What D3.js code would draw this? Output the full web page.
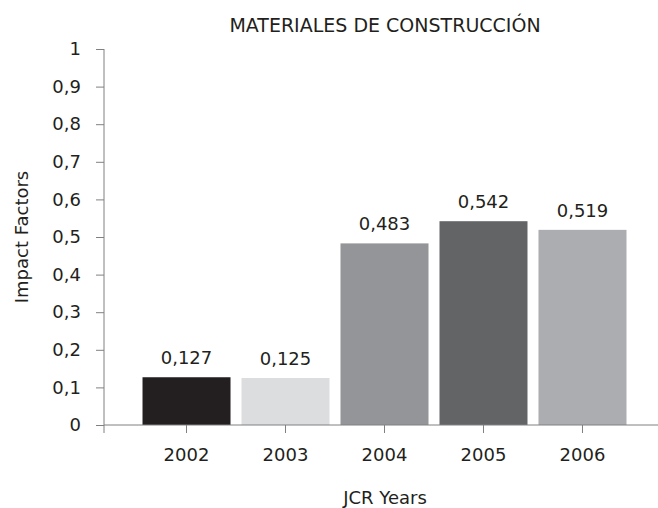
<!DOCTYPE html>
<html>
<head>
<meta charset="utf-8">
<script src="https://cdn.jsdelivr.net/npm/d3@7"></script>
<style>
  body { margin: 0; background: #fff; }
  text { font-family: "DejaVu Sans", sans-serif; fill: #231f20; }
</style>
</head>
<body>
<script>
const width = 658;
const height = 508;

// Data
const years = ["2002", "2003", "2004", "2005", "2006"];
const impactFactors = [0.127, 0.125, 0.483, 0.542, 0.519];
const valueLabels = ["0,127", "0,125", "0,483", "0,542", "0,519"];
const barColors = ["#231f20", "#dcdddf", "#939598", "#636466", "#acadb0"];
const yTicks = [0, 0.1, 0.2, 0.3, 0.4, 0.5, 0.6, 0.7, 0.8, 0.9, 1];

const data = years.map((y, i) => ({ year: y, value: impactFactors[i], label: valueLabels[i], color: barColors[i] }));

const svg = d3.select("body").append("svg").attr("width", width).attr("height", height);

const xScale = d3.scaleBand()
  .domain(years)
  .range([104, 665])
  .paddingInner(0.111)
  .paddingOuter(0.389);

const yScale = d3.scaleLinear()
  .domain([0, 1])
  .range([425, 49]);

const axisColor = "#808080";
const fs = 18;
const fmt = d => d === 0 ? "0" : d === 1 ? "1" : String(d).replace(".", ",");

// bars
svg.selectAll("rect.bar")
  .data(data)
  .join("rect")
  .attr("class", "bar")
  .attr("x", d => xScale(d.year))
  .attr("y", d => yScale(d.value))
  .attr("width", xScale.bandwidth())
  .attr("height", d => yScale(0) - yScale(d.value))
  .attr("fill", d => d.color);

// value labels
svg.selectAll("text.val")
  .data(data)
  .join("text")
  .attr("class", "val")
  .attr("x", d => xScale(d.year) + xScale.bandwidth() / 2)
  .attr("y", d => yScale(d.value) - 13)
  .attr("text-anchor", "middle")
  .attr("font-size", fs)
  .text(d => d.label);

// y axis
const yAxis = svg.append("g")
  .attr("transform", "translate(104,0)")
  .call(d3.axisLeft(yScale).tickValues(yTicks).tickFormat(fmt).tickSize(8).tickPadding(15));
yAxis.select(".domain").remove();
yAxis.append("line")
  .attr("x1", 0).attr("x2", 0)
  .attr("y1", yScale(1)).attr("y2", yScale(0) + 8)
  .attr("stroke", axisColor);
yAxis.selectAll(".tick line").attr("stroke", axisColor);
yAxis.selectAll(".tick text").attr("font-size", fs).attr("fill", "#231f20")
  .style("font-family", "DejaVu Sans");

// x axis
const xAxis = svg.append("g")
  .attr("transform", `translate(0,${yScale(0)})`)
  .call(d3.axisBottom(xScale).tickSize(8).tickPadding(15));
xAxis.select(".domain").remove();
xAxis.append("line")
  .attr("x1", 104).attr("x2", 658)
  .attr("y1", 0).attr("y2", 0)
  .attr("stroke", axisColor);
xAxis.selectAll(".tick line").attr("stroke", axisColor);
xAxis.selectAll(".tick text").attr("font-size", fs).attr("fill", "#231f20")
  .style("font-family", "DejaVu Sans");

// title and axis titles
svg.append("text")
  .attr("x", 385).attr("y", 32)
  .attr("text-anchor", "middle")
  .attr("font-size", 19)
  .text("MATERIALES DE CONSTRUCCIÓN");

svg.append("text")
  .attr("x", 385).attr("y", 504)
  .attr("text-anchor", "middle")
  .attr("font-size", fs)
  .text("JCR Years");

svg.append("text")
  .attr("transform", "translate(28,237) rotate(-90)")
  .attr("text-anchor", "middle")
  .attr("font-size", fs)
  .text("Impact Factors");
</script>
</body>
</html>
